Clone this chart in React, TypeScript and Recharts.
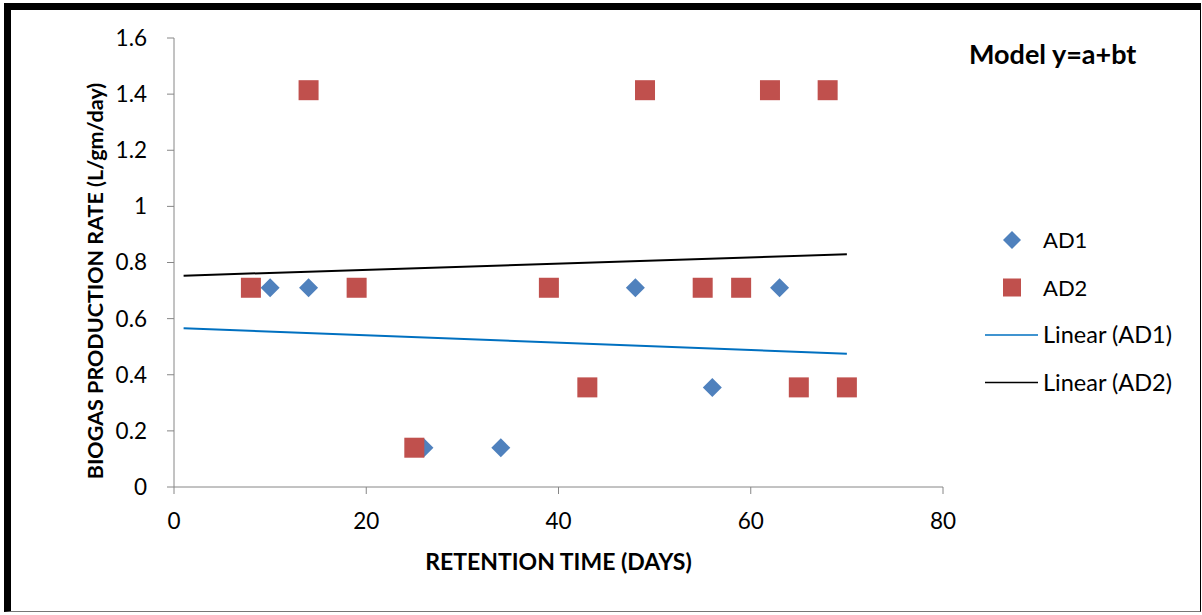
import React from 'react';
import {
  ScatterChart,
  Scatter,
  XAxis,
  YAxis
} from 'recharts';

// retention time (days) and biogas production rate (L/gm/day)
const ad1Days = [10, 14, 26, 34, 48, 56, 63];
const ad1Rate = [0.71, 0.71, 0.14, 0.14, 0.71, 0.355, 0.71];

const ad2Days = [8, 14, 19, 25, 39, 43, 49, 55, 59, 62, 65, 68, 70];
const ad2Rate = [0.71, 1.414, 0.71, 0.14, 0.71, 0.355, 1.414, 0.71, 0.71, 1.414, 0.355, 1.414, 0.355];

// trend line end points as drawn in the chart
const trendDays = [1, 70];
const trendAD1 = [0.566, 0.475];
const trendAD2 = [0.753, 0.829];

const xTicks = [0, 20, 40, 60, 80];
const yTicks = [0, 0.2, 0.4, 0.6, 0.8, 1, 1.2, 1.4, 1.6];

const toPoints = (xs: number[], ys: number[]) => xs.map((x, i) => ({ x, y: ys[i] }));

const ad1Data = toPoints(ad1Days, ad1Rate);
const ad2Data = toPoints(ad2Days, ad2Rate);
const lin1Data = toPoints(trendDays, trendAD1);
const lin2Data = toPoints(trendDays, trendAD2);

const BLUE = '#4F81BD';
const RED = '#C0504D';
const LINE_BLUE = '#0070C0';
const FONT = 'Lato, "Open Sans", sans-serif';

const Diamond = (props: any) => {
  const { cx, cy } = props;
  if (cx == null || cy == null) return <g />;
  const r = 9.5;
  return <path d={`M${cx},${cy - r}L${cx + r},${cy}L${cx},${cy + r}L${cx - r},${cy}Z`} fill={BLUE} />;
};

const Square = (props: any) => {
  const { cx, cy } = props;
  if (cx == null || cy == null) return <g />;
  return <rect x={cx - 10} y={cy - 10} width={20} height={20} fill={RED} />;
};

const NoDot = () => <g />;

const LegendBox = () => {
  const rows = [
    { label: 'AD1', kind: 'diamond' },
    { label: 'AD2', kind: 'square' },
    { label: 'Linear (AD1)', kind: 'line', color: LINE_BLUE },
    { label: 'Linear (AD2)', kind: 'line', color: '#000' }
  ];
  return (
    <svg width={215} height={200} style={{ position: 'absolute', left: 980, top: 218, overflow: 'visible' }}>
      {rows.map((r, i) => {
        const y = 22 + i * 47.5;
        return (
          <g key={r.label}>
            {r.kind === 'diamond' && (
              <path d={`M32,${y - 9}L41,${y}L32,${y + 9}L23,${y}Z`} fill={BLUE} />
            )}
            {r.kind === 'square' && <rect x={23} y={y - 9} width={18} height={18} fill={RED} />}
            {r.kind === 'line' && <line x1={5} x2={58} y1={y} y2={y} stroke={r.color} strokeWidth={1.5} />}
            <text x={63} y={y + 8} fontSize={r.kind === 'line' ? 23.5 : 22} fontFamily={FONT} fill="#000">
              {r.label}
            </text>
          </g>
        );
      })}
    </svg>
  );
};

export default function App() {
  return (
    <div style={{ position: 'absolute', left: 0, top: 0, width: 1202, height: 615, background: '#fff' }}>
      <div
        style={{
          position: 'absolute',
          left: 4,
          top: 3,
          width: 1189,
          height: 601,
          borderLeft: '7px solid #000',
          borderTop: '7px solid #000',
          borderRight: '1px solid #000',
          borderBottom: '1px solid #777'
        }}
      />
      <ScatterChart
        width={1202}
        height={615}
        margin={{ top: 38, right: 259, bottom: 98, left: 114 }}
        style={{ position: 'absolute', left: 0, top: 0, fontFamily: FONT }}
      >
        <XAxis
          type="number"
          dataKey="x"
          domain={[0, 80]}
          ticks={xTicks}
          height={30}
          stroke="#868686"
          tickSize={7}
          tickMargin={19}
          tick={{ fontSize: 22.5, fill: '#000', fontFamily: FONT }}
          label={{
            value: 'RETENTION TIME (DAYS)',
            position: 'insideBottom',
            offset: -53,
            fontSize: 23,
            fontWeight: 'bold',
            fill: '#000',
            fontFamily: FONT
          }}
        />
        <YAxis
          type="number"
          dataKey="y"
          domain={[0, 1.6]}
          ticks={yTicks}
          width={60}
          stroke="#868686"
          tickSize={7}
          tickMargin={20}
          tickFormatter={(v: number) => `${v}`}
          tick={{ fontSize: 22.5, fill: '#000', fontFamily: FONT }}
        />
        <Scatter name="AD1" data={ad1Data} shape={Diamond} isAnimationActive={false} />
        <Scatter name="AD2" data={ad2Data} shape={Square} isAnimationActive={false} />
        <Scatter
          name="Linear (AD1)"
          data={lin1Data}
          line={{ stroke: LINE_BLUE, strokeWidth: 2 }}
          shape={NoDot}
          isAnimationActive={false}
        />
        <Scatter
          name="Linear (AD2)"
          data={lin2Data}
          line={{ stroke: '#000', strokeWidth: 2 }}
          shape={NoDot}
          isAnimationActive={false}
        />
      </ScatterChart>
      <svg width={40} height={615} style={{ position: 'absolute', left: 75, top: 0 }}>
        <text
          x={20}
          y={281}
          transform="rotate(-90 20 281)"
          textAnchor="middle"
          dominantBaseline="central"
          fontSize={21.5}
          fontWeight="bold"
          fontFamily={FONT}
          fill="#000"
        >
          BIOGAS PRODUCTION RATE (L/gm/day)
        </text>
      </svg>
      <LegendBox />
      <div
        style={{
          position: 'absolute',
          left: 969,
          top: 37,
          fontFamily: FONT,
          fontWeight: 'bold',
          fontSize: 27,
          lineHeight: '34px',
          color: '#000',
          whiteSpace: 'nowrap'
        }}
      >
        Model y=a+bt
      </div>
    </div>
  );
}
